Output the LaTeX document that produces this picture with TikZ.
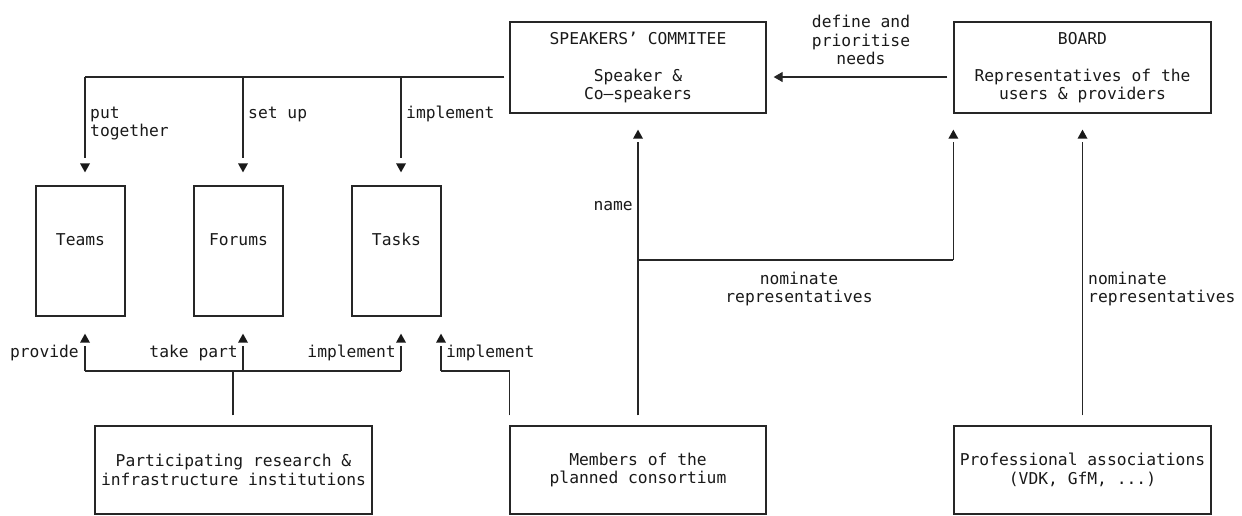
\documentclass[tikz,border=0pt]{standalone}
\usepackage{fontspec}
\setmainfont{DejaVu Sans Mono}
\usetikzlibrary{arrows.meta,calc}
\tikzset{
  txt/.style={font=\fontsize{16.3}{18.4}\selectfont, text=black!90, inner sep=0pt},
  box/.style={draw=black!85, line width=1.3pt, rectangle, inner sep=0pt, align=center,
    font=\fontsize{16.3}{18.4}\selectfont, text=black!90},
  conn/.style={draw=black!85, line width=1.3pt},
  arrc/.style={conn, -{Triangle[length=9pt,width=10pt]}},
  tipdown/.pic={\fill[black!90] (0,0) -- (-5,-9) -- (5,-9) -- cycle;},
  tipup/.pic={\fill[black!90] (0,0) -- (-5,9) -- (5,9) -- cycle;}
}
\begin{document}
\begin{tikzpicture}[x=1pt,y=-1pt]
\useasboundingbox (0,0) rectangle (1242,515);
% boxes
\node[box, minimum width=256pt, minimum height=91pt] (spk) at (638,67.5)
  {SPEAKERS’ COMMITEE\\[18.4pt]Speaker \&\\Co–speakers};
\node[box, minimum width=257pt, minimum height=91pt] (brd) at (1082.5,67.5)
  {BOARD\\[18.4pt]Representatives of the\\users \& providers};
\node[box, minimum width=89pt, minimum height=130pt, text height=12pt, text depth=24pt] (teams) at (80.5,251) {Teams};
\node[box, minimum width=89pt, minimum height=130pt, text height=12pt, text depth=24pt] (forums) at (238.5,251) {Forums};
\node[box, minimum width=89pt, minimum height=130pt, text height=12pt, text depth=24pt] (tasks) at (396.5,251) {Tasks};
\node[box, minimum width=277pt, minimum height=88pt] (inst) at (233.5,470)
  {Participating research \&\\infrastructure institutions};
\node[box, minimum width=256pt, minimum height=88pt] (mem) at (638,470)
  {Members of the\\planned consortium};
\node[box, minimum width=257pt, minimum height=88pt] (prof) at (1082.5,470)
  {Professional associations\\(VDK, GfM, ...)};

% junction coordinates
\coordinate (tb1) at (85,77);
\coordinate (tb2) at (243,77);
\coordinate (tb3) at (401,77);
\coordinate (lb1) at (85,371);
\coordinate (lb2) at (243,371);
\coordinate (lb3) at (401,371);
\coordinate (lbm) at (233,371);
\coordinate (mb) at (441,371);
\coordinate (nb) at (638,260);

% speakers' committee -> teams, forums, tasks
\draw[conn, shorten <=5pt] (spk.west |- tb3) -- (tb1);
\draw[conn, shorten >=27pt] (tb1) -- (tb1 |- teams.north);
\draw[conn, shorten >=27pt] (tb2) -- (tb2 |- forums.north);
\draw[conn, shorten >=27pt] (tb3) -- (tb3 |- tasks.north);
\pic at ($(tb1 |- teams.north)+(0,-13)$) {tipdown};
\pic at ($(tb2 |- forums.north)+(0,-13)$) {tipdown};
\pic at ($(tb3 |- tasks.north)+(0,-13)$) {tipdown};

% institutions -> teams, forums, tasks
\draw[conn, shorten <=10pt] (lbm |- inst.north) -- (lbm);
\draw[conn] (lb1) -- (lb3);
\draw[conn, shorten >=29pt] (lb1) -- (lb1 |- teams.south);
\draw[conn, shorten >=29pt] (lb2) -- (lb2 |- forums.south);
\draw[conn, shorten >=29pt] (lb3) -- (lb3 |- tasks.south);
\pic at ($(lb1 |- teams.south)+(0,17)$) {tipup};
\pic at ($(lb2 |- forums.south)+(0,17)$) {tipup};
\pic at ($(lb3 |- tasks.south)+(0,17)$) {tipup};

% members -> tasks
\draw[conn, shorten <=10pt] (mem.north west) |- (mb);
\draw[conn, shorten >=29pt] (mb) -- (mb |- tasks.south);
\pic at ($(mb |- tasks.south)+(0,17)$) {tipup};

% members -> speakers
\draw[conn, shorten <=10pt, shorten >=28pt] (mem.north) -- (spk.south);
\pic at ($(spk.south)+(0,16)$) {tipup};
% members -> board
\draw[conn] (nb) -- (nb -| brd.south west);
\draw[conn, shorten >=28pt] (nb -| brd.south west) -- (brd.south west);
\pic at ($(brd.south west)+(0,16)$) {tipup};
% professional -> board
\draw[conn, shorten <=10pt, shorten >=28pt] (prof.north) -- (brd.south);
\pic at ($(brd.south)+(0,16)$) {tipup};
% board -> speakers
\draw[arrc, shorten <=6pt, shorten >=7pt] (brd.west |- tb1) -- (spk.east |- tb1);

% labels
\node[txt, anchor=west, align=left] (lput) at (90,123.5) {put\\together};
\node[txt, anchor=west] (lset) at (248,114) {set up};
\node[txt, anchor=west] (limp1) at (406,114) {implement};
\node[txt, anchor=east] (lprov) at (79,352.5) {provide};
\node[txt, anchor=east] (ltake) at (238,352.5) {take part};
\node[txt, anchor=east] (limp2) at (396,352.5) {implement};
\node[txt, anchor=west] (limp3) at (446,352.5) {implement};
\node[txt, anchor=east] (lname) at (633,206) {name};
\node[txt, align=center] (lnom1) at (799,289) {nominate\\representatives};
\node[txt, anchor=west, align=left] (lnom2) at (1088,289) {nominate\\representatives};
\node[txt, align=center] (ldef) at (861,40) {define and\\prioritise\\needs};
\end{tikzpicture}
\end{document}
